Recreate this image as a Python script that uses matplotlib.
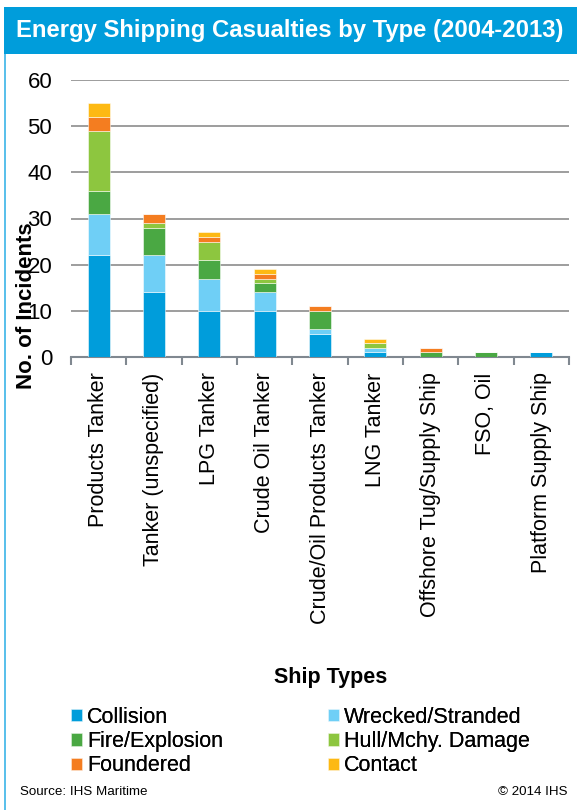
import matplotlib
matplotlib.use("Agg")
import matplotlib.pyplot as plt
from matplotlib.patches import Rectangle
import numpy as np

plt.rcParams['font.family'] = ['Liberation Sans', 'DejaVu Sans']

ship_types = ["Products Tanker", "Tanker (unspecified)", "LPG Tanker", "Crude Oil Tanker",
              "Crude/Oil Products Tanker", "LNG Tanker", "Offshore Tug/Supply Ship",
              "FSO, Oil", "Platform Supply Ship"]
collision = [22, 14, 10, 10, 5, 1, 0, 0, 1]
wrecked = [9, 8, 7, 4, 1, 1, 0, 0, 0]
fire = [5, 6, 4, 2, 4, 0, 1, 1, 0]
hull = [13, 1, 4, 1, 0, 1, 0, 0, 0]
foundered = [3, 2, 1, 1, 1, 0, 1, 0, 0]
contact = [3, 0, 1, 1, 0, 1, 0, 0, 0]

series = [("Collision", collision, "#009ddb"),
          ("Wrecked/Stranded", wrecked, "#6fcff6"),
          ("Fire/Explosion", fire, "#4aa843"),
          ("Hull/Mchy. Damage", hull, "#8dc63f"),
          ("Foundered", foundered, "#f47d20"),
          ("Contact", contact, "#fdb913")]

fig = plt.figure(figsize=(5.77, 8.1), dpi=100)

# title banner and left border
fig.patches.append(Rectangle((4/577, 1-54/810), 573/577, 47/810, transform=fig.transFigure,
                             facecolor="#009ddb", edgecolor="none"))
fig.patches.append(Rectangle((4/577, 0), 2/577, 1-54/810, transform=fig.transFigure,
                             facecolor="#5bc0eb", edgecolor="none"))
fig.text(16/577, 1-31/810, "Energy Shipping Casualties by Type (2004-2013)", color="white",
         fontsize=17.2, fontweight="bold", va="center", ha="left")

ax = fig.add_axes([71/577, 1-357/810, 498/577, 277/810])
x = np.arange(len(ship_types))
bottom = np.zeros(len(ship_types))
for name, vals, col in series:
    ax.bar(x, vals, 0.4, bottom=bottom, color=col, label=name,
           edgecolor=(1, 1, 1, 0.6), linewidth=0.6, zorder=3)
    bottom += np.array(vals)

ax.set_xlim(-0.5, len(ship_types) - 0.5)
ax.set_ylim(0, 60)
ax.set_yticks(range(0, 61, 10))
ax.yaxis.grid(True, color="#8c8c8c", linewidth=1.2, zorder=0)
ax.tick_params(axis="y", length=0, pad=13.5, labelsize=16)
for s in ["left", "right", "top"]:
    ax.spines[s].set_visible(False)
ax.spines["bottom"].set_color("#808890")
ax.spines["bottom"].set_linewidth(1.5)

ax.set_xticks(x)
ax.set_xticklabels(ship_types, rotation=90, fontsize=15.5)
ax.set_xticks(np.arange(-0.5, len(ship_types)), minor=True)
ax.tick_params(axis="x", which="major", length=0, pad=11)
ax.tick_params(axis="x", which="minor", length=6, width=1.5, color="#808890")

fig.text(27/577, 1-306/810, "No. of Incidents", rotation=90, fontsize=16, fontweight="bold",
         ha="center", va="center")
fig.text(331/577, 1-678/810, "Ship Types", fontsize=15.5, fontweight="bold", ha="center", va="center")

handles, labels = ax.get_legend_handles_labels()
legend_kw = dict(frameon=False, fontsize=15.5, handlelength=0.5, handleheight=0.5,
                 handletextpad=0.25, labelspacing=0.15, borderpad=0, borderaxespad=0,
                 loc="upper left")
for cols, x0 in [([0, 2, 4], 71), ([1, 3, 5], 328)]:
    leg = fig.legend([handles[i] for i in cols], [labels[i] for i in cols],
                     bbox_to_anchor=(x0/577, 1-707/810), **legend_kw)
    fig.add_artist(leg)

fig.text(20/577, 1-792/810, "Source: IHS Maritime", fontsize=9.6, va="center", ha="left")
fig.text(567/577, 1-792/810, "\u00a9 2014 IHS", fontsize=9.6, va="center", ha="right")

fig.savefig("out.png", dpi=100)
